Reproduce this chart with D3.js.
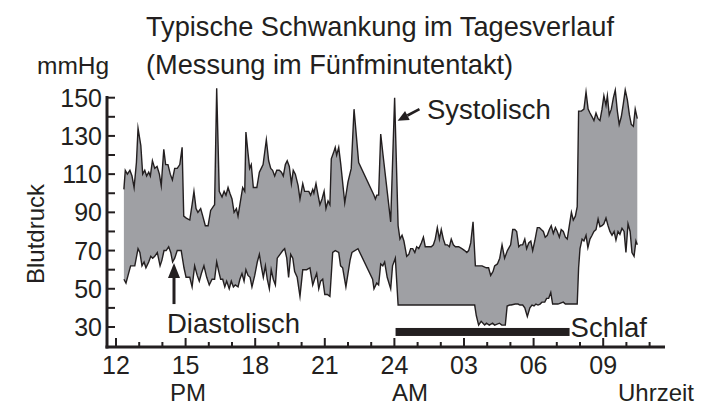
<!DOCTYPE html>
<html>
<head>
<meta charset="utf-8">
<script src="https://cdn.jsdelivr.net/npm/d3@7/dist/d3.min.js"></script>
<style>
  html, body { margin: 0; padding: 0; background: #fff; }
  svg { display: block; font-family: "Liberation Sans", Arial, sans-serif; fill: #231f20; }
</style>
</head>
<body>
<svg id="chart" width="715" height="408"></svg>
<script>
// Blutdruck im Tagesverlauf, Stunden ab 12 Uhr mittags (24 = Mitternacht, 33 = 09 Uhr)
const systolic = [
  [12.34,102],[12.40,112],[12.49,110],[12.60,112],[12.69,109],[12.78,103],[12.88,116],[12.95,134],
  [13.07,125],[13.15,110],[13.24,112],[13.32,109],[13.41,111],[13.48,109],[13.57,117],[13.67,113],
  [13.77,114],[13.87,110],[13.95,104],[14.06,123],[14.14,115],[14.24,115],[14.34,110],[14.43,107],
  [14.53,113],[14.64,113],[14.75,115],[14.85,124],[14.92,88],[15.03,87],[15.18,86],[15.28,94],
  [15.36,101],[15.45,92],[15.53,90],[15.65,92],[15.74,88],[15.85,83],[15.97,83],[16.08,91],
  [16.19,93],[16.25,94],[16.34,155],[16.45,101],[16.57,98],[16.66,101],[16.74,99],[16.83,103],
  [16.91,100],[17.00,97],[17.09,90],[17.19,92],[17.26,88],[17.38,97],[17.46,103],[17.55,101],
  [17.60,132],[17.69,121],[17.76,113],[17.83,115],[17.92,103],[18.07,103],[18.18,111],[18.26,113],
  [18.34,115],[18.48,128],[18.58,117],[18.67,113],[18.75,112],[18.84,109],[18.93,112],[19.04,112],
  [19.13,111],[19.21,109],[19.30,115],[19.38,117],[19.47,114],[19.56,105],[19.64,112],[19.73,110],
  [19.85,104],[19.93,97],[20.05,105],[20.13,101],[20.22,101],[20.31,101],[20.39,99],[20.48,102],
  [20.53,100],[20.62,105],[20.71,99],[20.79,94],[20.88,97],[20.97,101],[21.05,92],[21.14,96],
  [21.22,94],[21.28,118],[21.37,121],[21.45,124],[21.51,120],[21.60,124],[21.69,115],[21.86,95],
  [22.00,106],[22.14,113],[22.26,144],[22.46,116],[23.12,99],[23.18,97],[23.24,99],[23.32,99],
  [23.41,131],[23.51,120],[23.84,85],[24.01,150],[24.16,83],[24.24,76],[24.33,78],[24.41,75],
  [24.53,67],[24.62,68],[24.70,71],[24.79,71],[24.88,69],[24.96,72],[25.05,71],[25.16,74],
  [25.25,77],[25.33,72],[25.45,72],[25.59,72],[25.68,73],[25.76,76],[25.85,82],[25.94,76],
  [26.02,81],[26.11,76],[26.19,73],[26.28,73],[26.37,72],[26.45,76],[26.54,73],[26.63,72],
  [26.77,72],[26.91,71],[27.03,70],[27.12,69],[27.20,70],[27.29,74],[27.39,85],[27.49,62],
  [27.60,62],[27.78,62],[27.96,61],[28.06,61],[28.15,57],[28.25,59],[28.32,62],[28.44,63],
  [28.54,66],[28.64,73],[28.75,66],[28.87,70],[29.01,73],[29.10,81],[29.19,81],[29.27,80],
  [29.36,72],[29.44,73],[29.53,73],[29.62,76],[29.70,71],[29.79,74],[29.88,75],[29.96,70],
  [30.05,75],[30.16,82],[30.25,82],[30.33,81],[30.42,80],[30.50,77],[30.59,78],[30.68,81],
  [30.76,83],[30.85,79],[30.94,82],[31.02,80],[31.11,77],[31.19,81],[31.28,80],[31.37,77],
  [31.45,76],[31.54,83],[31.63,90],[31.71,86],[31.80,88],[31.88,93],[31.94,143],[32.06,143],
  [32.17,144],[32.26,153],[32.35,144],[32.43,142],[32.52,140],[32.60,138],[32.69,142],[32.78,139],
  [32.86,138],[32.95,144],[33.03,151],[33.12,146],[33.18,151],[33.26,141],[33.35,144],[33.44,150],
  [33.52,154],[33.61,143],[33.69,136],[33.78,140],[33.87,147],[33.95,154],[34.04,149],[34.13,141],
  [34.21,136],[34.30,135],[34.38,144],[34.47,139]
];

const diastolic = [
  [12.34,55],[12.43,53],[12.52,57],[12.63,62],[12.81,62],[12.95,71],[13.03,69],[13.12,62],
  [13.21,64],[13.29,61],[13.41,64],[13.50,67],[13.58,66],[13.67,67],[13.78,69],[13.90,62],
  [13.98,65],[14.07,70],[14.16,70],[14.27,72],[14.36,69],[14.44,64],[14.53,66],[14.64,70],
  [14.81,70],[14.93,61],[15.02,56],[15.18,56],[15.28,51],[15.39,62],[15.50,57],[15.59,54],
  [15.68,58],[15.79,62],[15.91,56],[16.02,52],[16.14,55],[16.25,55],[16.34,64],[16.43,59],
  [16.51,55],[16.60,55],[16.69,51],[16.77,54],[16.88,50],[16.97,54],[17.06,51],[17.14,52],
  [17.26,51],[17.34,55],[17.43,58],[17.52,54],[17.60,60],[17.69,57],[17.78,56],[17.86,51],
  [17.98,57],[18.09,64],[18.18,68],[18.26,62],[18.35,56],[18.44,62],[18.52,55],[18.61,50],
  [18.69,60],[18.78,55],[18.87,52],[18.95,66],[19.07,68],[19.19,70],[19.27,71],[19.36,66],
  [19.44,56],[19.53,68],[19.62,66],[19.70,59],[19.81,56],[19.93,46],[20.05,60],[20.22,60],
  [20.36,61],[20.48,52],[20.56,55],[20.65,58],[20.74,50],[20.82,54],[20.91,55],[21.00,47],
  [21.11,47],[21.22,46],[21.34,69],[21.45,70],[21.60,69],[21.68,62],[21.77,61],[21.91,51],
  [22.00,58],[22.09,65],[22.17,69],[22.43,71],[23.06,55],[23.12,50],[23.24,53],[23.32,52],
  [23.41,63],[23.50,62],[23.58,64],[23.69,56],[23.84,50],[23.92,62],[24.04,66],[24.16,41.5],
  [27.46,41.5],[27.53,36],[27.63,31],[27.74,33],[27.89,31],[27.97,32],[28.09,31],[28.23,32],
  [28.32,31],[28.53,32],[28.63,31],[28.78,31],[28.86,41],[28.97,41.5],[29.03,41.5],[29.21,42],
  [29.33,42],[29.41,41.5],[29.53,41.5],[29.62,40],[29.73,35.5],[29.84,40],[29.93,41.5],[30.02,41],
  [30.10,42],[30.19,41.5],[30.28,42],[30.36,43],[30.48,43],[30.56,45],[30.65,45],[30.74,48],
  [30.82,42],[31.05,42],[31.28,43],[31.37,42],[31.48,42],[31.57,42],[31.88,42],[31.94,61],
  [32.00,71],[32.09,76],[32.17,75],[32.26,78],[32.34,71.5],[32.43,76],[32.52,78],[32.60,80],
  [32.69,81],[32.78,86.5],[32.86,82.5],[32.95,83],[33.03,84],[33.12,87],[33.21,83],[33.29,80],
  [33.38,78],[33.47,80],[33.55,75.5],[33.64,80],[33.72,78.5],[33.81,81.6],[33.90,80],[33.98,69],
  [34.07,84],[34.16,80],[34.24,69],[34.33,67],[34.41,75],[34.47,73]
];

// Schlafphase (Stunden)
const sleepPeriod = [24.05, 31.55];

// Achsenbeschriftungen
const yTicks = [30, 50, 70, 90, 110, 130, 150];
const yMinorTicks = [40, 60, 80, 100, 120, 140];
const xTickHours = [12, 15, 18, 21, 24, 27, 30, 33];
const xTickLabels = ["12", "15", "18", "21", "24", "03", "06", "09"];
const xMinorHours = d3.range(12, 36);

const svg = d3.select("#chart");
const ink = "#231f20";
const fillGrey = "#9fa0a4";

const x = d3.scaleLinear().domain([12, 35]).range([116, 649.6]);
const y = d3.scaleLinear().domain([30, 150]).range([327, 97.7]);

const axisX0 = 107, axisY0 = 347, axisXEnd = 665, axisYTop = 96;

// Fläche zwischen systolischem und diastolischem Wert
const line = d3.line().x(d => x(d[0])).y(d => y(d[1]));
const band = systolic.concat(diastolic.slice().reverse());
svg.append("path")
  .attr("d", line(band) + "Z")
  .attr("fill", fillGrey)
  .attr("stroke", "none");

svg.append("path")
  .attr("d", line(systolic))
  .attr("fill", "none").attr("stroke", ink)
  .attr("stroke-width", 1.4).attr("stroke-linejoin", "miter").attr("stroke-miterlimit", 10);

svg.append("path")
  .attr("d", line(diastolic))
  .attr("fill", "none").attr("stroke", ink)
  .attr("stroke-width", 1.4).attr("stroke-linejoin", "miter").attr("stroke-miterlimit", 10);

// Achsen
const axes = svg.append("g").attr("stroke", ink).attr("fill", "none");
axes.append("line").attr("x1", axisX0).attr("x2", axisX0).attr("y1", axisYTop).attr("y2", axisY0 + 1.5).attr("stroke-width", 3);
axes.append("line").attr("x1", axisX0 - 1.5).attr("x2", axisXEnd).attr("y1", axisY0).attr("y2", axisY0).attr("stroke-width", 3);

axes.selectAll(".yt").data(yTicks.concat(yMinorTicks)).enter().append("line")
  .attr("x1", axisX0).attr("x2", axisX0 + 8)
  .attr("y1", d => y(d)).attr("y2", d => y(d))
  .attr("stroke-width", 2);

axes.selectAll(".xt").data(xMinorHours).enter().append("line")
  .attr("x1", d => x(d)).attr("x2", d => x(d))
  .attr("y1", axisY0).attr("y2", d => axisY0 - (xTickHours.includes(d) ? 9 : 5))
  .attr("stroke-width", 2);

// Beschriftungen der Achsen
svg.selectAll(".yl").data(yTicks).enter().append("text")
  .attr("x", 102).attr("y", d => y(d)).attr("dy", "0.36em")
  .attr("text-anchor", "end").attr("font-size", 25).text(d => d);

svg.selectAll(".xl").data(xTickHours).enter().append("text")
  .attr("x", d => x(d)).attr("y", 374)
  .attr("text-anchor", "middle").attr("font-size", 25)
  .text((d, i) => xTickLabels[i]);

svg.append("text").attr("x", 170).attr("y", 401).attr("font-size", 24).text("PM");
svg.append("text").attr("x", 392).attr("y", 401).attr("font-size", 24).text("AM");
svg.append("text").attr("x", 618).attr("y", 401).attr("font-size", 24).text("Uhrzeit");

svg.append("text")
  .attr("transform", "translate(44,234) rotate(-90)")
  .attr("text-anchor", "middle").attr("font-size", 24).text("Blutdruck");

svg.append("text").attr("x", 37).attr("y", 74).attr("font-size", 24.5).text("mmHg");

// Titel
svg.append("text").attr("x", 146).attr("y", 36).attr("font-size", 27.2).text("Typische Schwankung im Tagesverlauf");
svg.append("text").attr("x", 146).attr("y", 74).attr("font-size", 27.2).text("(Messung im Fünfminutentakt)");

// Schlafbalken
svg.append("rect")
  .attr("x", x(sleepPeriod[0])).attr("width", x(sleepPeriod[1]) - x(sleepPeriod[0]))
  .attr("y", y(27.4) - 4).attr("height", 8).attr("fill", ink);
svg.append("text").attr("x", x(sleepPeriod[1]) + 1).attr("y", 337).attr("font-size", 27.5).text("Schlaf");

// Pfeile mit Beschriftung
function arrow(x1, y1, x2, y2, width, headLen, headW) {
  const ang = Math.atan2(y2 - y1, x2 - x1);
  const bx = x2 - headLen * Math.cos(ang), by = y2 - headLen * Math.sin(ang);
  svg.append("line").attr("x1", x1).attr("y1", y1).attr("x2", bx).attr("y2", by)
    .attr("stroke", ink).attr("stroke-width", width);
  const px = -Math.sin(ang) * headW / 2, py = Math.cos(ang) * headW / 2;
  svg.append("path")
    .attr("d", `M${x2},${y2}L${bx + px},${by + py}L${bx - px},${by - py}Z`)
    .attr("fill", ink);
}

arrow(x(25.08), y(144), x(24.14), y(138), 2.6, 11, 10);
svg.append("text").attr("x", 427).attr("y", 119).attr("font-size", 27.5).text("Systolisch");

arrow(x(14.5), y(42), x(14.5), y(63.5), 3, 15, 12);
svg.append("text").attr("x", 167).attr("y", 333).attr("font-size", 27.5).text("Diastolisch");
</script>
</body>
</html>
